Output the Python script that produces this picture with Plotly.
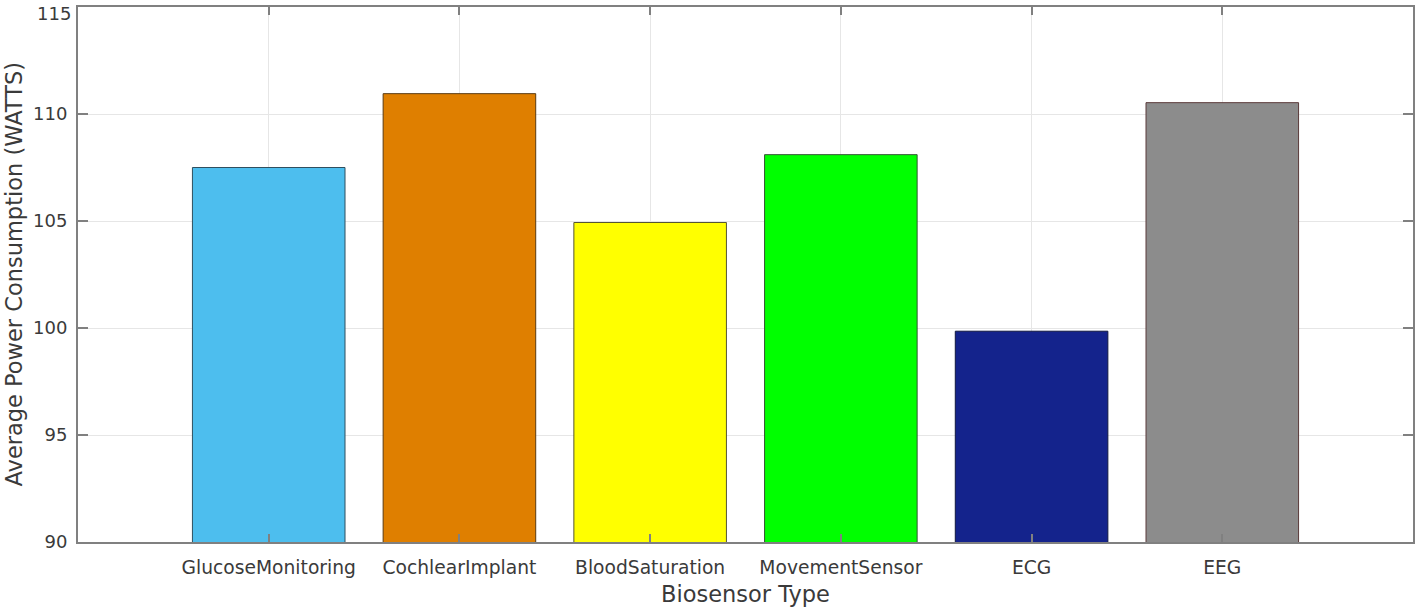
import plotly.graph_objects as go

categories = ["GlucoseMonitoring", "CochlearImplant", "BloodSaturation",
              "MovementSensor", "ECG", "EEG"]
values = [107.5, 110.95, 104.93, 108.1, 99.85, 110.53]
colors = ["#4DBEEE", "#DF7F00", "#FFFF00", "#00FF00", "#14238C", "#8C8C8C"]
edges = ["#2F4F5F", "#5A3A10", "#555533", "#335533", "#101840", "#5A3A3A"]
y_ticks = [90, 95, 100, 105, 110, 115]
y_ticktext = ["90", "95", "100", "105", "110", ""]

fig = go.Figure(go.Bar(
    x=list(range(len(categories))), y=values, width=0.8,
    marker=dict(color=colors, line=dict(color=edges, width=1)),
))

font_fam = "DejaVu Sans, sans-serif"
txt = "#3A3A3A"
fig.update_layout(
    width=1416, height=612,
    margin=dict(l=78, r=3, t=7, b=70, autoexpand=False),
    plot_bgcolor="white", paper_bgcolor="white",
    showlegend=False,
    font=dict(family=font_fam, color=txt, size=18),
    xaxis=dict(
        range=[-1, 6], tickmode="array",
        tickvals=list(range(len(categories))), ticktext=categories,
        showgrid=True, gridcolor="#E6E6E6", gridwidth=1,
        showline=True, linecolor="#808080", linewidth=2, mirror="ticks",
        ticks="inside", ticklen=8, tickcolor="#808080", tickwidth=2,
        tickfont=dict(size=18.7, color=txt), ticklabelstandoff=8,
        automargin=False, zeroline=False, ticklabeloverflow="allow",
    ),
    yaxis=dict(
        range=[90, 115], tickmode="array", tickvals=y_ticks, ticktext=y_ticktext,
        showgrid=True, gridcolor="#E6E6E6", gridwidth=1,
        showline=True, linecolor="#808080", linewidth=2, mirror="ticks",
        ticks="inside", ticklen=10, tickcolor="#808080", tickwidth=2,
        tickfont=dict(size=18, color=txt), ticklabelstandoff=5,
        automargin=False, zeroline=False, ticklabeloverflow="allow",
    ),
    annotations=[
        dict(text=str(y_ticks[-1]), xref="paper", yref="y", x=0, y=y_ticks[-1],
             xanchor="right", yanchor="top", xshift=-5, yshift=6, showarrow=False,
             font=dict(size=18, color=txt)),
        dict(text="Biosensor Type", xref="paper", yref="paper", x=0.5, y=0,
             yshift=-52, xanchor="center", yanchor="middle", showarrow=False,
             font=dict(size=22.5, color=txt)),
        dict(text="Average Power Consumption (WATTS)", xref="paper", yref="paper",
             x=0, y=0.5, xshift=-65, textangle=-90, xanchor="center", yanchor="middle",
             showarrow=False, font=dict(size=22.5, color=txt)),
    ],
)
fig.write_html("out.html", config={"displayModeBar": False},
               post_script="document.body.style.margin='0px';document.body.style.overflow='hidden';")
